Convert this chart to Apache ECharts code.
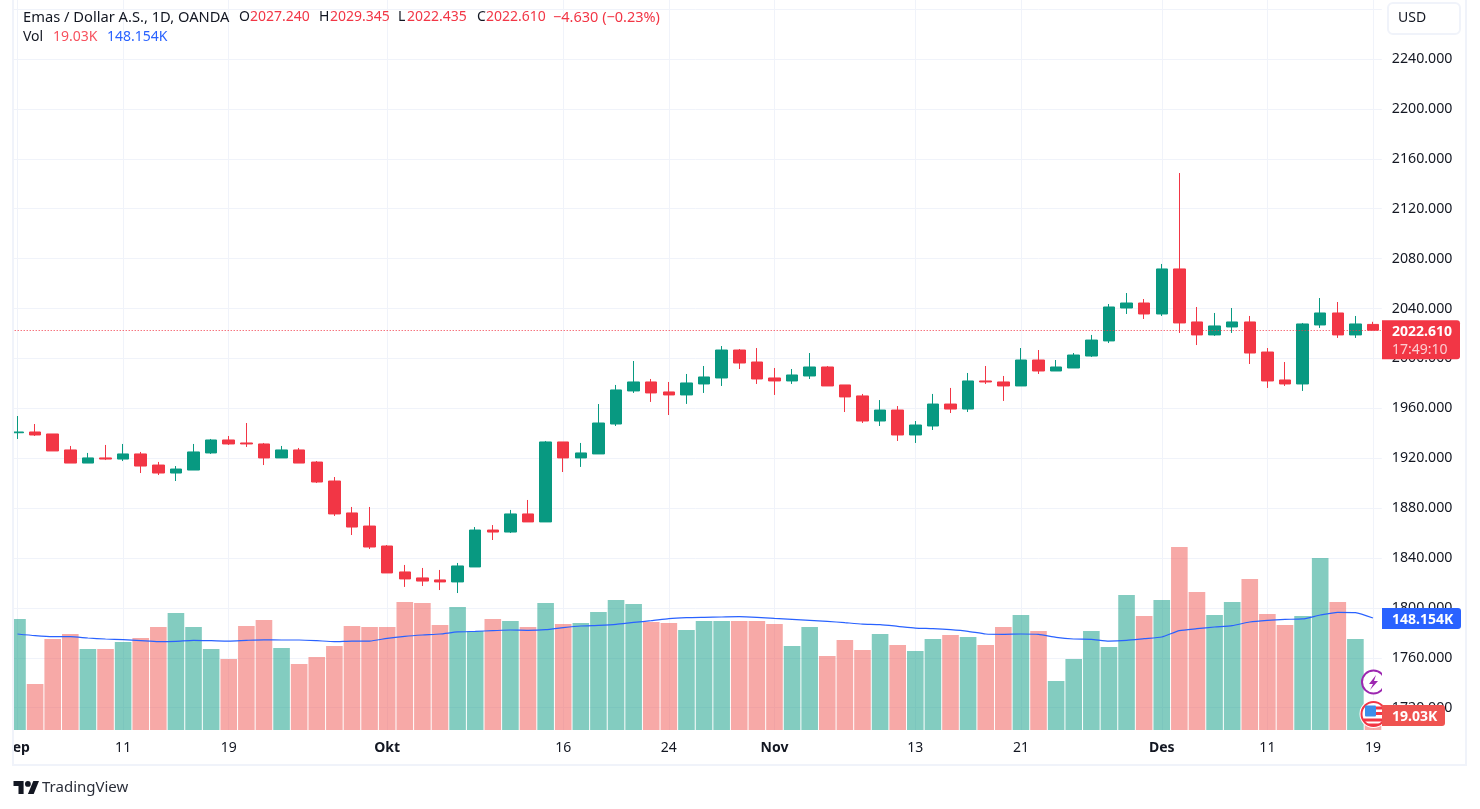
<!DOCTYPE html>
<html><head><meta charset="utf-8">
<style>html,body{margin:0;padding:0;background:#fff}#c{width:1480px;height:809px}</style>
<script src="https://cdn.jsdelivr.net/npm/echarts@6/dist/echarts.min.js"></script>
</head><body><div id="c"></div>
<script>
const categories = ['09-01','09-04','09-05','09-06','09-07','09-08','09-11','09-12','09-13','09-14','09-15','09-18','09-19','09-20','09-21','09-22','09-25','09-26','09-27','09-28','09-29','10-02','10-03','10-04','10-05','10-06','10-09','10-10','10-11','10-12','10-13','10-16','10-17','10-18','10-19','10-20','10-23','10-24','10-25','10-26','10-27','10-30','10-31','11-01','11-02','11-03','11-06','11-07','11-08','11-09','11-10','11-13','11-14','11-15','11-16','11-17','11-20','11-21','11-22','11-23','11-24','11-27','11-28','11-29','11-30','12-01','12-04','12-05','12-06','12-07','12-08','12-11','12-12','12-13','12-14','12-15','12-18','12-19'];
const xTickLabels = {'09-01':'Sep','09-11':'11','09-19':'19','10-02':'Okt','10-16':'16','10-24':'24','11-01':'Nov','11-13':'13','11-21':'21','12-01':'Des','12-11':'11','12-19':'19'};
const monthLabels = ['Sep','Okt','Nov','Des'];
const priceTicks = [1720,1760,1800,1840,1880,1920,1960,2000,2040,2080,2120,2160,2200,2240,2280];
const opens = [1940.4,1941,1939.4,1926.6,1916.1,1920.2,1919.3,1923.4,1914.5,1908.1,1910.5,1924.2,1934.6,1932.2,1931.4,1920.2,1926.6,1916.9,1901.7,1876.1,1865.6,1849.6,1828.8,1824,1822.4,1820.8,1832.8,1862.4,1860.8,1875.3,1868.9,1933,1920.2,1923.4,1947.4,1973.9,1981.1,1973.1,1970.7,1979.5,1984.3,2006.7,1997.1,1984.3,1981.9,1985.9,1993.1,1978.7,1969.9,1949.8,1958.6,1938.6,1945.8,1963.4,1959.4,1981.9,1981.1,1977.9,1998.7,1989.9,1992.3,2001.9,2014,2040.4,2044.4,2035.6,2071.7,2029.2,2018.8,2025.2,2029.2,2005.1,1982.7,1979.5,2026.8,2036.4,2018.8,2027.24];
const closes = [1941,1938.6,1925.8,1916.1,1920.2,1919.3,1923.4,1913.7,1908.1,1911.3,1925,1934.6,1931.4,1931.4,1920.2,1926.6,1916.1,1900.9,1875.3,1864.8,1848.8,1828,1823.2,1821.5,1820.8,1833.6,1862.4,1860.8,1875.3,1868.9,1933,1920.2,1924.2,1948.2,1974.7,1981.1,1972.3,1970.7,1980.3,1985.1,2006.7,1996.3,1983.5,1981.9,1986.7,1993.1,1977.9,1969.1,1949.8,1958.6,1938.6,1946.6,1963.4,1959.4,1981.9,1981.1,1977.9,1998.7,1989.9,1993.1,2002.7,2014.7,2041.2,2044.4,2035.6,2071.7,2028.4,2018.8,2026,2029.2,2004.3,1981.9,1979.5,2027.6,2036.4,2018.8,2027.6,2022.61];
const lows = [1935.4,1937.8,1925.8,1916.1,1916.1,1918.5,1917.7,1908.1,1906.5,1901.7,1910.5,1923.4,1930.6,1929,1914.5,1920.2,1916.1,1900.1,1873.7,1858.4,1847.2,1828,1816.8,1817.5,1814.3,1811.9,1832.8,1854.4,1860,1868.9,1868.9,1908.9,1913,1923.4,1945.8,1972.3,1965.1,1954.6,1963.5,1972.3,1977.9,1991.5,1979.5,1970.7,1979.5,1983.5,1977.9,1957,1948.2,1945.8,1933.8,1932.2,1942.6,1956.2,1957,1979.5,1965.9,1977.9,1987.5,1989.9,1992.3,2001.1,2012.3,2035.6,2031.6,2034,2020.4,2010.7,2018,2020.4,1995.5,1976.3,1977.9,1973.9,2024.4,2016.4,2016.4,2022.435];
const highs = [1953.8,1947.4,1939.4,1929.8,1924.2,1930.6,1931.4,1925,1917,1913.7,1931.4,1935.4,1937.8,1948.2,1932.2,1929.8,1928.2,1917.7,1904.9,1880.9,1880.9,1850.4,1834.4,1832,1830.4,1836,1864.8,1866.4,1878.5,1886.5,1933.8,1933,1932.2,1963.4,1978.7,1997.9,1983.5,1981.1,1987.5,1993.9,2009.9,2007.5,2008.3,1992.3,1991.5,2004.3,1993.9,1978.7,1971.5,1966.6,1961.8,1949.8,1971.5,1976.3,1988.3,1993.9,1985.9,2008.3,2006.7,1998.7,2004.3,2018.8,2043.6,2052.4,2047.6,2075.7,2148.6,2041.2,2036.4,2040.4,2034,2008.3,1997.1,2028.4,2048.4,2045.2,2034,2029.345];
const volumes = [146.9,60.9,120.4,127,107.2,107.2,116.4,121.7,136.3,154.8,136.3,107.2,93.9,137.6,145.5,108.5,87.3,96.6,111.1,137.6,136.3,136.3,169.3,168,138.9,162.7,131,146.9,144.2,136.3,168,140.2,141.6,156.1,172,166.7,142.9,141.6,132.3,144.2,144.2,144.2,144.2,140.2,111.1,136.3,97.9,119.1,105.8,127,112.5,104.5,120.4,125.7,123,112.5,136.3,152.1,131,64.8,93.9,131,109.8,178.6,150.8,172,242.1,182.6,152.1,169.3,199.8,153.5,138.9,150.8,227.6,169.3,120.4,19.03];
const volumeMA = [127,124.8,123.5,123.5,121.7,120.4,119.5,118.2,116.9,117.3,118.6,118.2,117.7,118.6,119.3,119.1,119.1,118.2,116.9,117.7,117.7,121.3,123.9,125.7,127,129.7,130.5,131.4,132.3,131.9,132.7,135.4,137.6,138.5,139.8,142.4,144.6,147.3,148.6,149.1,149.5,149.9,149.1,147.7,146.4,145.1,143.8,142,140.2,139.4,137.2,134.9,134.1,132.7,130.5,127,126.6,127,126.6,122.6,120.4,120,117.7,118.6,120.8,123,131.4,134,136.3,138,142.9,145.1,146.4,146.9,152.1,155.7,155.2,148.154];
const lastPrice = 2022.61, lastVol = 19.03, lastMA = 148.154;

const UP='#089981', DOWN='#f23645', GRID='#f0f3fa', TEXT='#131722', FONT='"Noto Sans", "Open Sans", sans-serif';
const chart = echarts.init(document.getElementById('c'), null, {renderer:'canvas'});
const isTick = (i, v) => v in xTickLabels;
chart.setOption({
  animation:false, backgroundColor:'#fff',
  grid:{left:8.7, width:1373.1, top:0, height:730, containLabel:false},
  xAxis:{type:'category', data:categories, boundaryGap:true,
    axisLine:{show:false},
    axisTick:{show:false, alignWithLabel:true, interval:isTick},
    splitLine:{show:true, alignWithLabel:true, interval:isTick, lineStyle:{color:GRID,width:1}},
    axisLabel:{interval:isTick, margin:11, hideOverlap:false, color:TEXT, fontFamily:FONT, fontSize:14,
      formatter:v=>{const t=xTickLabels[v]||''; return monthLabels.includes(t)?'{m|'+t+'}':t;},
      rich:{m:{fontWeight:'bold',fontSize:14,fontFamily:FONT,color:TEXT}}}},
  yAxis:[
    {type:'value', position:'right', min:1702.1, max:2287.3, scale:true,
     axisLine:{show:false},
     axisTick:{show:false, customValues:priceTicks},
     splitLine:{show:true, lineStyle:{color:GRID,width:1}},
     axisLabel:{customValues:priceTicks, margin:10, padding:[3,0,0,0], color:TEXT, fontFamily:FONT, fontSize:14.2, formatter:v=>v.toFixed(3)}},
    {type:'value', min:0, max:965.8, show:false, splitLine:{show:false}}
  ],
  series:[
    {type:'bar', yAxisIndex:1, z:1, barWidth:16.6, barGap:'0%', silent:true,
     data:volumes.map((v,i)=>({value:v,itemStyle:{color:closes[i]>=opens[i]?'rgba(8,153,129,0.5)':'rgba(239,83,80,0.5)'}}))},
    {type:'line', yAxisIndex:1, z:2, data:volumeMA, symbol:'none', smooth:0.2, lineStyle:{color:'#2962ff',width:1.2}, silent:true},
    {type:'candlestick', z:3, barWidth:12, silent:true,
     data:opens.map((o,i)=>[o,closes[i],lows[i],highs[i]]),
     itemStyle:{color:UP,color0:DOWN,borderColor:UP,borderColor0:DOWN,borderWidth:1},
     markLine:{silent:true,symbol:'none',label:{show:false},data:[{yAxis:lastPrice}],
       lineStyle:{color:DOWN,type:[1,2],width:1}}}
  ]
});

const py = v => chart.convertToPixel({yAxisIndex:0}, v);
const vy = v => chart.convertToPixel({yAxisIndex:1}, v);
const RX = 1382;
function txt(t,x,y,fill,opt){opt=opt||{};return {type:'text',z:opt.z||30,style:{text:t,x:x,y:y+1,fill:fill,font:(opt.weight||'normal')+' '+(opt.size||14)+'px '+FONT,verticalAlign:'middle',align:opt.align||'left',opacity:opt.opacity==null?1:opt.opacity}};}
function rrect(x,y,w,h,fill,r,z,stroke){return {type:'rect',z:z,shape:{x:x,y:y,width:w,height:h,r:r||0},style:{fill:fill,stroke:stroke||null,lineWidth:stroke?2:0}};}
function poly(points,fill,z){return {type:'polygon',z:z,shape:{points:points},style:{fill:fill}};}
const pY=py(lastPrice), vY=vy(lastVol), mY=vy(lastMA);
const f3=n=>n.toFixed(3);
const last=opens.length-1, chg=closes[last]-opens[last];
const priceLabel=f3(lastPrice), volLabel=lastVol.toFixed(2)+'K', maLabel=f3(lastMA)+'K';
chart.setOption({graphic:[
  rrect(0,0,13,770,'#fff',0,20),
  rrect(12,0,2,765,GRID,0,21),
  rrect(12,764,1455,2,GRID,0,21),
  rrect(1465,0,2,766,GRID,0,21),
  rrect(1388,3,72,31,'#fff',5,22,GRID),
  txt('USD',1398,17,TEXT),
  // event icons
  {type:'circle',z:10,shape:{cx:1373.5,cy:682,r:11.5},style:{fill:'#fff',stroke:'#9c27b0',lineWidth:2}},
  poly([[1376,675],[1369,684],[1373,684],[1370,690],[1378,681],[1374,681]],'#9c27b0',10),
  {type:'circle',z:10,shape:{cx:1373.5,cy:714,r:14},style:{fill:'#fff'}},
  {type:'circle',z:10,shape:{cx:1373.5,cy:714,r:12},style:{fill:'#fff',stroke:'#f23645',lineWidth:2}},
  rrect(1376,706.5,6,3,'#f23645',0,10),
  rrect(1376,712,6,3,'#f23645',0,10),
  rrect(1363.5,718.5,19,3,'#f23645',0,10),
  rrect(1367,723.5,14,1.6,'#f23645',0,10),
  rrect(1365,705.5,11,11,'#3d8ee8',1,10),
  rrect(RX,668,10,34,'#fff',0,11),
  // header
  txt('Emas / Dollar A.S., 1D, OANDA',23,16.5,TEXT,{size:14.7}),
  txt('O',239,16.5,TEXT), txt(f3(opens[last]),250,16.5,DOWN),
  txt('H',319,16.5,TEXT), txt(f3(highs[last]),330,16.5,DOWN),
  txt('L',398,16.5,TEXT), txt(f3(lows[last]),407,16.5,DOWN),
  txt('C',477,16.5,TEXT), txt(f3(closes[last]),486,16.5,DOWN),
  txt('\u2212'+Math.abs(chg).toFixed(3)+' (\u2212'+(Math.abs(chg)/opens[last]*100).toFixed(2)+'%)',553,16.5,DOWN,{size:14.5}),
  txt('Vol',23,36.5,TEXT), txt(volLabel,53,36.5,'#f7525f'), txt(f3(lastMA)+'K',107,36.5,'#2962ff'),
  // price-scale tags
  rrect(RX,pY-10,78,39,DOWN,[0,3,3,0],25),
  txt(priceLabel,1392,pY+0.5,'#fff',{weight:'bold'}),
  txt('17:49:10',1392,pY+19,'#fff',{opacity:0.75}),
  rrect(RX,mY-10,79,21,'#2962ff',[0,3,3,0],25),
  txt(maLabel,1392,mY+0.5,'#fff',{weight:'bold'}),
  rrect(RX,vY-10.5,63,21,'#ef5350',[0,3,3,0],25),
  txt(volLabel,1392,vY,'#fff',{weight:'bold'}),
  // logo
  poly([[13.5,781],[23.6,781],[23.6,794],[18.5,794],[18.5,786],[13.5,786]],TEXT,30),
  poly([[33.7,794],[27.9,794],[33.3,781],[39,781]],TEXT,30),
  {type:'circle',z:30,shape:{cx:27.9,cy:783.9,r:2.9},style:{fill:TEXT}},
  txt('TradingView',42,787,'#2a2e39',{size:15})
]});
</script></body></html>
